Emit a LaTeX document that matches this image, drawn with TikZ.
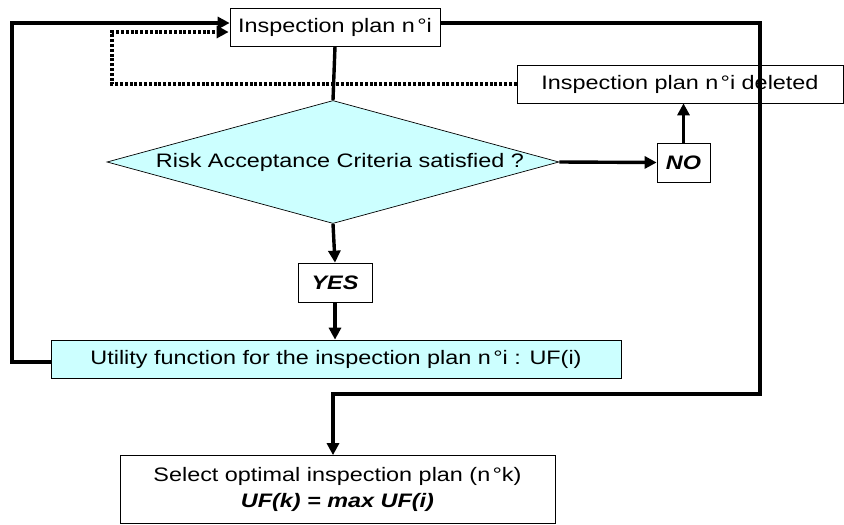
\documentclass[tikz,border=0pt]{standalone}
\usepackage{fontspec}
\setmainfont{Liberation Sans}[FakeStretch=1.2]
\usetikzlibrary{arrows.meta,shapes.geometric}
\definecolor{lcyan}{HTML}{CCFFFF}
\newcommand{\fsz}{\fontsize{19.5}{26}\selectfont}
\newcommand{\nd}{n\hspace{0.12em}°}
\begin{document}
\begin{tikzpicture}[x=1pt,y=-1pt,
  box/.style={draw,line width=0.7pt,fill=white,inner sep=0pt,font=\fsz},
  flow/.style={line width=3.4pt,-{Triangle[length=12pt,width=12pt]}},
  plain/.style={line width=3.4pt},
  dotline/.style={line width=3.4pt,dash pattern=on 3pt off 1.8pt}]
\useasboundingbox (0,0) rectangle (844,525);
\node[box,minimum width=210pt,minimum height=38pt] (tp) at (335,27) {Inspection plan \nd i};
\node[box,minimum width=326pt,minimum height=38pt] (del) at (680,84) {Inspection plan \nd i deleted};
\node[draw,line width=0.7pt,fill=lcyan,diamond,aspect=3.67,minimum width=452pt,minimum height=123pt,inner sep=0pt] (dia) at (333,162) {};
\node[font=\fsz] (diat) at (340,162) {Risk Acceptance Criteria satisfied ?};
\node[box,minimum width=53pt,minimum height=39pt] (no) at (683.5,162.5) {\textbf{\textit{NO}}};
\node[box,minimum width=74pt,minimum height=39pt] (yes) at (335,282.5) {\textbf{\textit{YES}}};
\node[box,fill=lcyan,minimum width=570pt,minimum height=38pt] (uf) at (336,359) {Utility function for the inspection plan \nd i : UF(i)};
\node[box,minimum width=435pt,minimum height=68pt,align=center] (sel) at (337.5,489.5) {Select optimal inspection plan (\nd k)\\\textbf{\textit{UF(k) = max UF(i)}}};
\coordinate (lc) at (12,362);
\coordinate (lt) at (12,23);
\coordinate (rt) at (760,23);
\coordinate (rb) at (760,394);
\coordinate (mb) at (333,394);
\coordinate (dl) at (112,84);
\coordinate (dt) at (112,32);
% main flow
\draw[plain] (tp.south) -- (dia.north);
\draw[flow] (dia.east) -- (no.west);
\draw[flow] (no.north) -- (del.south -| no.north);
\draw[flow] (dia.south) -- (yes.north);
\draw[flow] (yes.south) -- (uf.north -| yes.south);
% left loop
\draw[flow,line join=miter] (uf.west |- lc) -- (lc) -- (lt) -- (tp.west |- lt);
% right path
\draw[flow,line join=miter] (tp.east |- rt) -- (rt) -- (rb) -- (mb) -- (sel.north -| mb);
% dotted return
\draw[dotline,-{Triangle[length=12pt,width=12pt]}] (del.west |- dl) -- (dl) -- (dt) -- ([xshift=-1pt]tp.west |- dt);
\end{tikzpicture}
\end{document}
